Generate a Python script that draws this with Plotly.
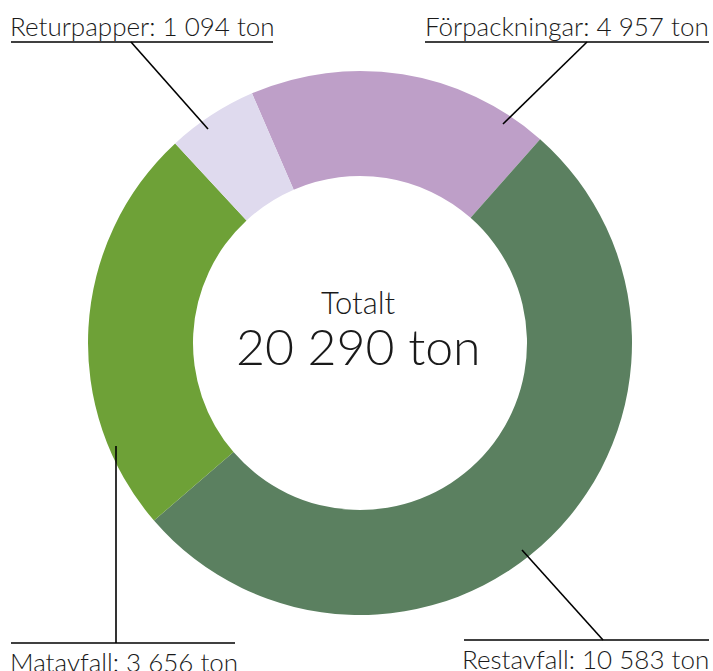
import plotly.graph_objects as go

# Slices in clockwise drawing order (sizes as drawn in the reference)
slice_names = ["Förpackningar", "Restavfall", "Matavfall", "Returpapper"]
slice_values = [3656, 10583, 4957, 1094]
slice_colors = ["#BE9FC8", "#5B8060", "#6EA137", "#DFDAEE"]

# Callout label texts
label_texts = ["Returpapper: 1 094 ton", "Förpackningar: 4 957 ton",
               "Matavfall: 3 656 ton", "Restavfall: 10 583 ton"]
center_title = "Totalt"
center_total = "20 290 ton"

W, H = 713, 671
def px(x):
    return x / W
def py(y):
    return 1 - y / H

FONT = "Lato"
TXT = "#1a1a1a"

fig = go.Figure(go.Pie(
    labels=slice_names,
    values=slice_values,
    marker=dict(colors=slice_colors, line=dict(width=0)),
    hole=0.614,
    sort=False,
    direction="clockwise",
    rotation=-23.4,
    textinfo="none",
    domain=dict(x=[px(88), px(632)], y=[py(615), py(71)]),
    showlegend=False,
))

line = dict(color="#000000", width=1.6)
shapes = [
    # Returpapper underline + leader
    dict(type="line", xref="paper", yref="paper", x0=px(11), x1=px(273), y0=py(42), y1=py(42), line=line),
    dict(type="line", xref="paper", yref="paper", x0=px(131), x1=px(208), y0=py(42), y1=py(129), line=line),
    # Förpackningar underline + leader
    dict(type="line", xref="paper", yref="paper", x0=px(425), x1=px(709), y0=py(42), y1=py(42), line=line),
    dict(type="line", xref="paper", yref="paper", x0=px(587), x1=px(503), y0=py(42), y1=py(124), line=line),
    # Matavfall overline + leader
    dict(type="line", xref="paper", yref="paper", x0=px(11), x1=px(235), y0=py(643), y1=py(643), line=line),
    dict(type="line", xref="paper", yref="paper", x0=px(116), x1=px(116), y0=py(643), y1=py(446), line=line),
    # Restavfall overline + leader
    dict(type="line", xref="paper", yref="paper", x0=px(464), x1=px(709), y0=py(640), y1=py(640), line=line),
    dict(type="line", xref="paper", yref="paper", x0=px(603), x1=px(522), y0=py(640), y1=py(550), line=line),
]

lab_font = dict(family=FONT, size=26, color=TXT, weight=300)
annotations = [
    dict(text=label_texts[0], x=px(8), y=py(44), xanchor="left", yanchor="bottom"),
    dict(text=label_texts[1], x=px(711), y=py(44), xanchor="right", yanchor="bottom"),
    dict(text=label_texts[2], x=px(8), y=py(644), xanchor="left", yanchor="top"),
    dict(text=label_texts[3], x=px(711), y=py(641), xanchor="right", yanchor="top"),
]
for a in annotations:
    a.update(xref="paper", yref="paper", showarrow=False, font=lab_font)

annotations.append(dict(text=center_title, x=px(358), y=py(302), xref="paper", yref="paper",
                        showarrow=False, xanchor="center", yanchor="middle",
                        font=dict(family=FONT, size=31, color=TXT, weight=300)))
annotations.append(dict(text=center_total, x=px(358), y=py(346), xref="paper", yref="paper",
                        showarrow=False, xanchor="center", yanchor="middle",
                        font=dict(family=FONT, size=50, color=TXT, weight=300)))

fig.update_layout(
    width=W, height=H,
    margin=dict(l=0, r=0, t=0, b=0),
    paper_bgcolor="white", plot_bgcolor="white",
    shapes=shapes, annotations=annotations,
)

fig.write_html("out.html", config={"displayModeBar": False},
               post_script="document.body.style.margin='0';document.body.style.overflow='hidden';")
